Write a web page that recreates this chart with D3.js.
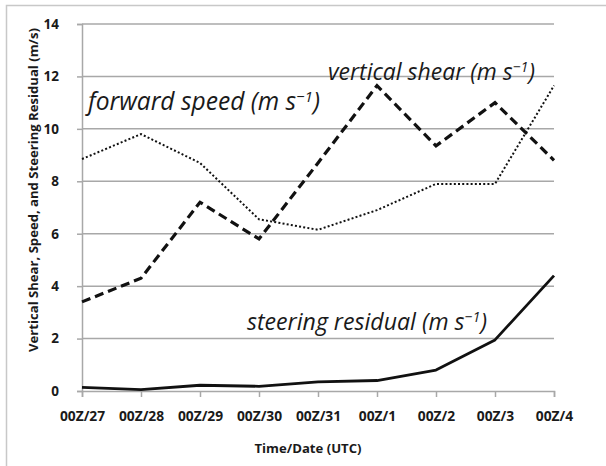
<!DOCTYPE html>
<html>
<head>
<meta charset="utf-8">
<script src="https://cdn.jsdelivr.net/npm/d3@7"></script>
<style>
  html, body { margin: 0; padding: 0; background: #fff; }
  svg { display: block; }
  text { font-family: "Open Sans", Lato, sans-serif; fill: #1a1a1a; }
</style>
</head>
<body>
<div id="chart"></div>
<script>
// Time steps along the x axis
const categories = ["00Z/27", "00Z/28", "00Z/29", "00Z/30", "00Z/31", "00Z/1", "00Z/2", "00Z/3", "00Z/4"];
// Series (m/s)
const verticalShear    = [3.4, 4.3, 7.2, 5.8, 8.7, 11.65, 9.35, 11.0, 8.8];
const forwardSpeed     = [8.85, 9.8, 8.7, 6.55, 6.15, 6.9, 7.9, 7.9, 11.65];
const steeringResidual = [0.14, 0.05, 0.22, 0.18, 0.35, 0.4, 0.8, 1.95, 4.4];
// Y tick labels
const yTicks = [0, 2, 4, 6, 8, 10, 12, 14];

const W = 606, H = 466;
const margin = { left: 82, right: 52, top: 24, bottom: 75 };

const svg = d3.select("#chart").append("svg")
  .attr("width", W).attr("height", H);

// scale a text element's font size so it spans the given width
function fitWidth(sel, width) {
  const node = sel.node();
  const fs = parseFloat(getComputedStyle(node).fontSize);
  const w = node.getComputedTextLength();
  sel.style("font-size", (fs * width / w).toFixed(2) + "px");
  // keep superscript tspans proportional
  sel.selectAll("tspan.sup").style("font-size", (0.62 * fs * width / w).toFixed(2) + "px");
  return sel;
}

// outer frame
svg.append("rect")
  .attr("x", 6.5).attr("y", 5.5)
  .attr("width", W).attr("height", H)
  .attr("fill", "none").attr("stroke", "#c8c8c8").attr("stroke-width", 1.5);

const x = d3.scalePoint().domain(categories)
  .range([margin.left, W - margin.right]);
const y = d3.scaleLinear().domain([0, 14])
  .range([H - margin.bottom, margin.top]);

// horizontal gridlines
svg.append("g").selectAll("line").data(yTicks.filter(d => d > 0)).join("line")
  .attr("x1", margin.left).attr("x2", W - margin.right)
  .attr("y1", d => y(d)).attr("y2", d => y(d))
  .attr("stroke", "#a8a8a8").attr("stroke-width", 1.5);

// y axis
const yAxis = svg.append("g")
  .attr("transform", `translate(${margin.left},0)`)
  .call(d3.axisLeft(y).tickValues(yTicks).tickSize(5).tickPadding(18));
yAxis.select(".domain").attr("stroke", "#a8a8a8").attr("stroke-width", 1.5);
yAxis.selectAll(".tick line").attr("stroke", "#a8a8a8").attr("stroke-width", 1.5);
yAxis.selectAll(".tick text")
  .style("font-family", "'Open Sans', sans-serif").style("font-weight", "bold")
  .style("font-size", "13.5px").attr("fill", "#1a1a1a");

// x axis
const xAxis = svg.append("g")
  .attr("transform", `translate(0,${y(0)})`)
  .call(d3.axisBottom(x).tickSize(6).tickPadding(14));
xAxis.select(".domain").attr("stroke", "#a8a8a8").attr("stroke-width", 1.5);
xAxis.selectAll(".tick line").attr("stroke", "#a8a8a8").attr("stroke-width", 1.5);
xAxis.selectAll(".tick text")
  .style("font-family", "'Open Sans', sans-serif").style("font-weight", "bold")
  .style("font-size", "13.8px").attr("fill", "#1a1a1a");

// axis titles
const xTitle = svg.append("text")
  .attr("x", 308).attr("y", 453)
  .attr("text-anchor", "middle")
  .style("font-weight", "bold").style("font-size", "13px")
  .text("Time/Date (UTC)");
fitWidth(xTitle, 107);

const yTitle = svg.append("text")
  .attr("transform", "translate(38,190) rotate(-90)")
  .attr("text-anchor", "middle")
  .style("font-weight", "bold").style("font-size", "13px")
  .text("Vertical Shear, Speed, and Steering Residual (m/s)");
fitWidth(yTitle, 324);

// series lines
const line = d3.line()
  .x((d, i) => x(categories[i]))
  .y(d => y(d));

svg.append("path").datum(forwardSpeed)
  .attr("d", line).attr("fill", "none")
  .attr("stroke", "#111").attr("stroke-width", 2)
  .attr("stroke-dasharray", "2,2.2");

svg.append("path").datum(verticalShear)
  .attr("d", line).attr("fill", "none")
  .attr("stroke", "#111").attr("stroke-width", 3.2)
  .attr("stroke-dasharray", "9,5");

svg.append("path").datum(steeringResidual)
  .attr("d", line).attr("fill", "none")
  .attr("stroke", "#111").attr("stroke-width", 2.8)
  .attr("stroke-linejoin", "round");

// in-plot series labels
function seriesLabel(px, py, main, width) {
  const t = svg.append("text")
    .attr("x", px).attr("y", py)
    .style("font-style", "italic").style("font-size", "21px")
    .attr("fill", "#1a1a1a");
  t.append("tspan").text(main + " (m s");
  t.append("tspan").attr("class", "sup").attr("dy", -8).style("font-size", "13px").text("\u22121");
  t.append("tspan").attr("dy", 8).text(")");
  return fitWidth(t, width);
}
seriesLabel(88, 110, "forward speed", 232);
seriesLabel(328, 80, "vertical shear", 207);
seriesLabel(247, 330, "steering residual", 240);
</script>
</body>
</html>
